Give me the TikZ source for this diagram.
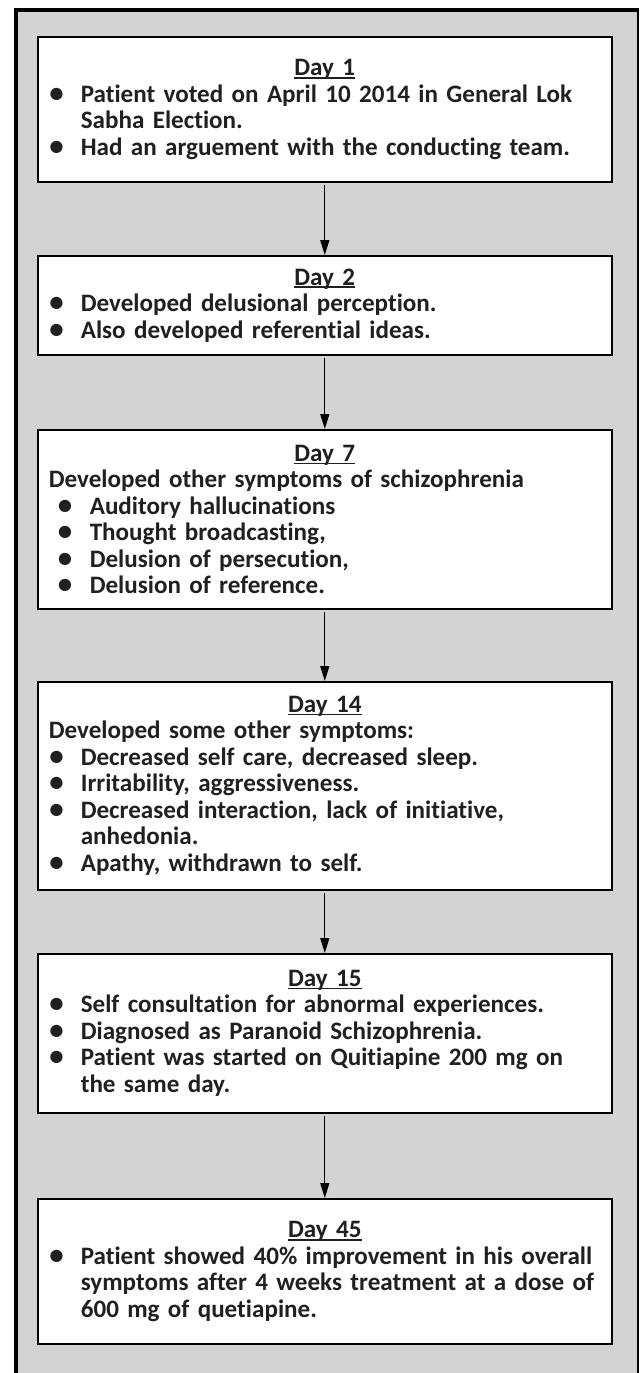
\documentclass[tikz,border=0pt]{standalone}
\usepackage{fontspec}
\setmainfont{Carlito}[Ligatures=NoCommon]
\usetikzlibrary{arrows.meta,shadows}
\newlength\px
\setlength\px{0.5pt}
\definecolor{bggray}{RGB}{209,211,212}
\definecolor{ink}{RGB}{35,31,32}
\newcommand\boxsetup{\hyphenpenalty=10000 \exhyphenpenalty=10000 \parindent=0pt \parskip=0pt}
\newcommand\uln[1]{\setbox0\hbox{#1}\rlap{\rule[-3\px]{\wd0}{1.6\px}}\box0}
\newcommand\hd[1]{{\centering\uln{#1}\par}}
\newcommand\bl[1]{\par\noindent\hangindent=32\px\hangafter=1\makebox[32\px][l]{\hspace*{0.5\px}\scalebox{1.15}{\textbullet}}#1\par}
\newcommand\sbl[1]{\par\noindent\hangindent=41\px\hangafter=1\hspace*{9\px}\makebox[32\px][l]{\scalebox{1.15}{\textbullet}}#1\par}
\newcommand\pl[1]{\par\noindent #1\par}
\tikzset{
  daybox/.style={draw=black, line width=0.8pt, fill=white, anchor=north west,
    minimum width=287pt, text width=276pt, inner xsep=5.5pt, inner ysep=0pt,
    align=left, text=ink,
    font=\fontsize{12.55pt}{13.25pt}\selectfont\bfseries,
    drop shadow={shadow xshift=0.6pt, shadow yshift=-0.6pt, fill=black!50, opacity=1}},
  arr/.style={draw=black, line width=0.65pt, -{Triangle[length=7.5pt,width=4.5pt]}, shorten <=1pt}
}
\begin{document}
\begin{tikzpicture}[x=0.5pt,y=-0.5pt]
\useasboundingbox (0,0) rectangle (640,1373);
\fill[white] (0,0) rectangle (640,1373);
\fill[bggray] (14,9) rectangle (638,1373);
\draw[line width=2pt] (16,1373) -- (16,8);
\draw[line width=1.75pt] (14,9.75) -- (639,9.75);
\draw[line width=1pt] (637.5,9) -- (637.5,1373);

\node[daybox, minimum height=72.5pt] (b1) at (37,36) {\boxsetup
\hd{Day 1}
\bl{Patient voted on April 10 2014 in General Lok\newline Sabha Election.}
\bl{Had an arguement with the conducting team.}};

\node[daybox, minimum height=49.5pt] (b2) at (37,255) {\boxsetup
\hd{Day 2}
\bl{Developed delusional perception.}
\bl{Also developed referential ideas.}};

\node[daybox, minimum height=89.5pt] (b3) at (37,429) {\boxsetup
\hd{Day 7}
\pl{Developed other symptoms of schizophrenia}
\sbl{Auditory hallucinations}
\sbl{Thought broadcasting,}
\sbl{Delusion of persecution,}
\sbl{Delusion of reference.}};

\node[daybox, minimum height=104pt] (b4) at (37,681) {\boxsetup
\hd{Day 14}
\pl{Developed some other symptoms:}
\bl{Decreased self care, decreased sleep.}
\bl{Irritability, aggressiveness.}
\bl{Decreased interaction, lack of initiative,\newline anhedonia.}
\bl{Apathy, withdrawn to self.}};

\node[daybox, minimum height=79.5pt] (b5) at (37,953) {\boxsetup
\hd{Day 15}
\bl{Self consultation for abnormal experiences.}
\bl{Diagnosed as Paranoid Schizophrenia.}
\bl{Patient was started on Quitiapine 200 mg on\newline the same day.}};

\node[daybox, minimum height=72.5pt] (b6) at (37,1198) {\boxsetup
\hd{Day 45}
\bl{Patient showed 40\% improvement in his overall\newline symptoms after 4 weeks treatment at a dose of\newline 600 mg of quetiapine.}};

\draw[arr] (b1.south) -- (b2.north);
\draw[arr] (b2.south) -- (b3.north);
\draw[arr] (b3.south) -- (b4.north);
\draw[arr] (b4.south) -- (b5.north);
\draw[arr] (b5.south) -- (b6.north);
\end{tikzpicture}
\end{document}
